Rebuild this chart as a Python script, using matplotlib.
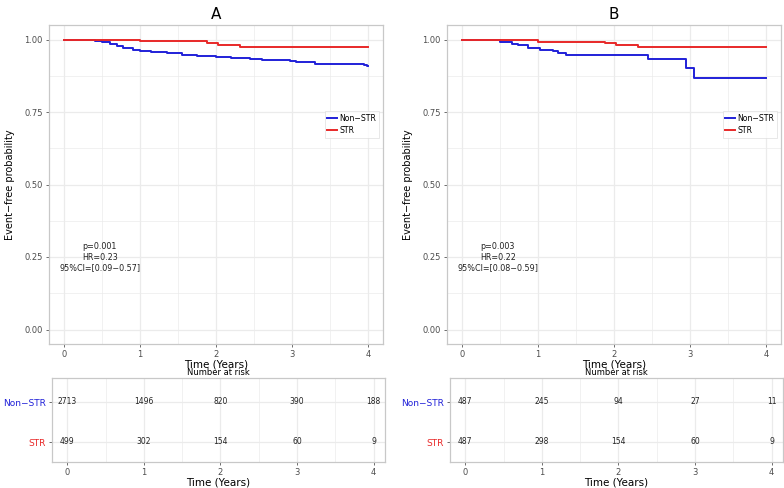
import matplotlib
matplotlib.use("Agg")
import matplotlib.pyplot as plt
import numpy as np

# ---------------- data ----------------
groups = ["Non\u2212STR", "STR"]

# Panel A Kaplan-Meier (time in years, survival)
a_non_t = [0, 0.30, 0.40, 0.50, 0.60, 0.70, 0.78, 0.90, 1.00, 1.15, 1.35, 1.55, 1.75, 2.00, 2.20, 2.45, 2.60, 2.97, 3.05, 3.30, 3.50, 3.95, 3.99]
a_non_s = [1.0, 0.999, 0.996, 0.992, 0.985, 0.978, 0.970, 0.965, 0.961, 0.958, 0.952, 0.948, 0.944, 0.940, 0.937, 0.932, 0.930, 0.925, 0.921, 0.916, 0.915, 0.912, 0.909]
a_str_t = [0, 0.80, 1.00, 1.88, 2.03, 2.32]
a_str_s = [1.0, 0.997, 0.994, 0.989, 0.982, 0.974]

# Panel B Kaplan-Meier
b_non_t = [0, 0.50, 0.66, 0.73, 0.87, 1.02, 1.20, 1.26, 1.37, 2.45, 2.95, 3.06]
b_non_s = [1.0, 0.992, 0.986, 0.980, 0.969, 0.963, 0.960, 0.955, 0.948, 0.932, 0.902, 0.866]
b_str_t = [0, 0.80, 1.00, 1.88, 2.03, 2.31]
b_str_s = [1.0, 0.997, 0.993, 0.987, 0.982, 0.974]

t_end = 4.0

risk_times = [0, 1, 2, 3, 4]
a_risk_non = [2713, 1496, 820, 390, 188]
a_risk_str = [499, 302, 154, 60, 9]
b_risk_non = [487, 245, 94, 27, 11]
b_risk_str = [487, 298, 154, 60, 9]

a_stats = ["p=0.001", "HR=0.23", "95%CI=[0.09\u22120.57]"]
b_stats = ["p=0.003", "HR=0.22", "95%CI=[0.08\u22120.59]"]

y_ticks = [0.00, 0.25, 0.50, 0.75, 1.00]
y_ticklabels = ["0.00", "0.25", "0.50", "0.75", "1.00"]

# ---------------- style ----------------
BLUE = "#2020d8"
RED = "#e82828"
GRID = "#ebebeb"
BORDER = "#c8c8c8"
TICKC = "#4d4d4d"

W, H = 784, 488
fig = plt.figure(figsize=(W / 100, H / 100), dpi=100)


def fax(l, t, r, b):
    return fig.add_axes([l / W, 1 - b / H, (r - l) / W, (b - t) / H])


def style(ax):
    for s in ax.spines.values():
        s.set_color(BORDER)
        s.set_linewidth(0.9)
    ax.tick_params(length=2.5, width=0.6, color="#555555", labelsize=6,
                   labelcolor=TICKC, pad=2)
    ax.set_axisbelow(True)


def panel(x0, title, non_t, non_s, str_t, str_s, stats, r_non, r_str, tbl_l):
    ax = fax(x0, 25, x0 + 334, 344)
    style(ax)
    for xv in np.arange(0, 4.01, 0.5):
        ax.axvline(xv, color=GRID, lw=0.9 if xv % 1 == 0 else 0.5, zorder=0)
    for yv in np.arange(0, 1.01, 0.125):
        ax.axhline(yv, color=GRID, lw=0.9 if (yv * 4) % 1 == 0 else 0.5, zorder=0)
    ax.step(non_t + [t_end], non_s + [non_s[-1]], where="post", color=BLUE, lw=1.4,
            label=groups[0])
    ax.step(str_t + [t_end], str_s + [str_s[-1]], where="post", color=RED, lw=1.4,
            label=groups[1])
    ax.set_xlim(-0.2, 4.2)
    ax.set_ylim(-0.05, 1.05)
    ax.set_xticks(risk_times)
    ax.set_yticks(y_ticks)
    ax.set_yticklabels(y_ticklabels)
    ax.set_xlabel("Time (Years)", fontsize=7.5, labelpad=0)
    ax.set_ylabel("Event\u2212free probability", fontsize=7, labelpad=7)
    ax.set_title(title, fontsize=11, pad=4)
    for i, s in enumerate(stats):
        ax.text(0.47, 0.285 - i * 0.036, s, fontsize=5.8, ha="center", va="center",
                color="#222222")
    leg = ax.legend(loc="center", bbox_to_anchor=(0.907, 0.688), fontsize=5.6,
                    frameon=True, handlelength=1.3, handletextpad=0.3,
                    borderpad=0.35, labelspacing=0.35, fancybox=False)
    leg.get_frame().set_edgecolor("#dddddd")
    leg.get_frame().set_linewidth(0.6)

    tb = fax(tbl_l, 378, tbl_l + 333, 462)
    style(tb)
    for xv in np.arange(0, 4.01, 0.5):
        tb.axvline(xv, color=GRID, lw=0.9 if xv % 1 == 0 else 0.5, zorder=0)
    for yv in [1, 2]:
        tb.axhline(yv, color=GRID, lw=0.9, zorder=0)
    for t, n1, n2 in zip(risk_times, r_non, r_str):
        tb.text(t, 2, str(n1), fontsize=5.5, ha="center", va="center", color="#222222")
        tb.text(t, 1, str(n2), fontsize=5.5, ha="center", va="center", color="#222222")
    tb.set_xlim(-0.2, 4.15)
    tb.set_ylim(0.5, 2.6)
    tb.set_xticks(risk_times)
    tb.set_yticks([2, 1])
    tb.set_yticklabels(groups, fontsize=6.5)
    tb.get_yticklabels()[0].set_color(BLUE)
    tb.get_yticklabels()[1].set_color(RED)
    tb.set_xlabel("Time (Years)", fontsize=7.5, labelpad=0)
    tb.set_title("Number at risk", fontsize=6, pad=2)


panel(49, "A", a_non_t, a_non_s, a_str_t, a_str_s, a_stats, a_risk_non, a_risk_str, 52)
panel(447, "B", b_non_t, b_non_s, b_str_t, b_str_s, b_stats, b_risk_non, b_risk_str, 450)

fig.savefig("out.png", dpi=100, facecolor="white")
